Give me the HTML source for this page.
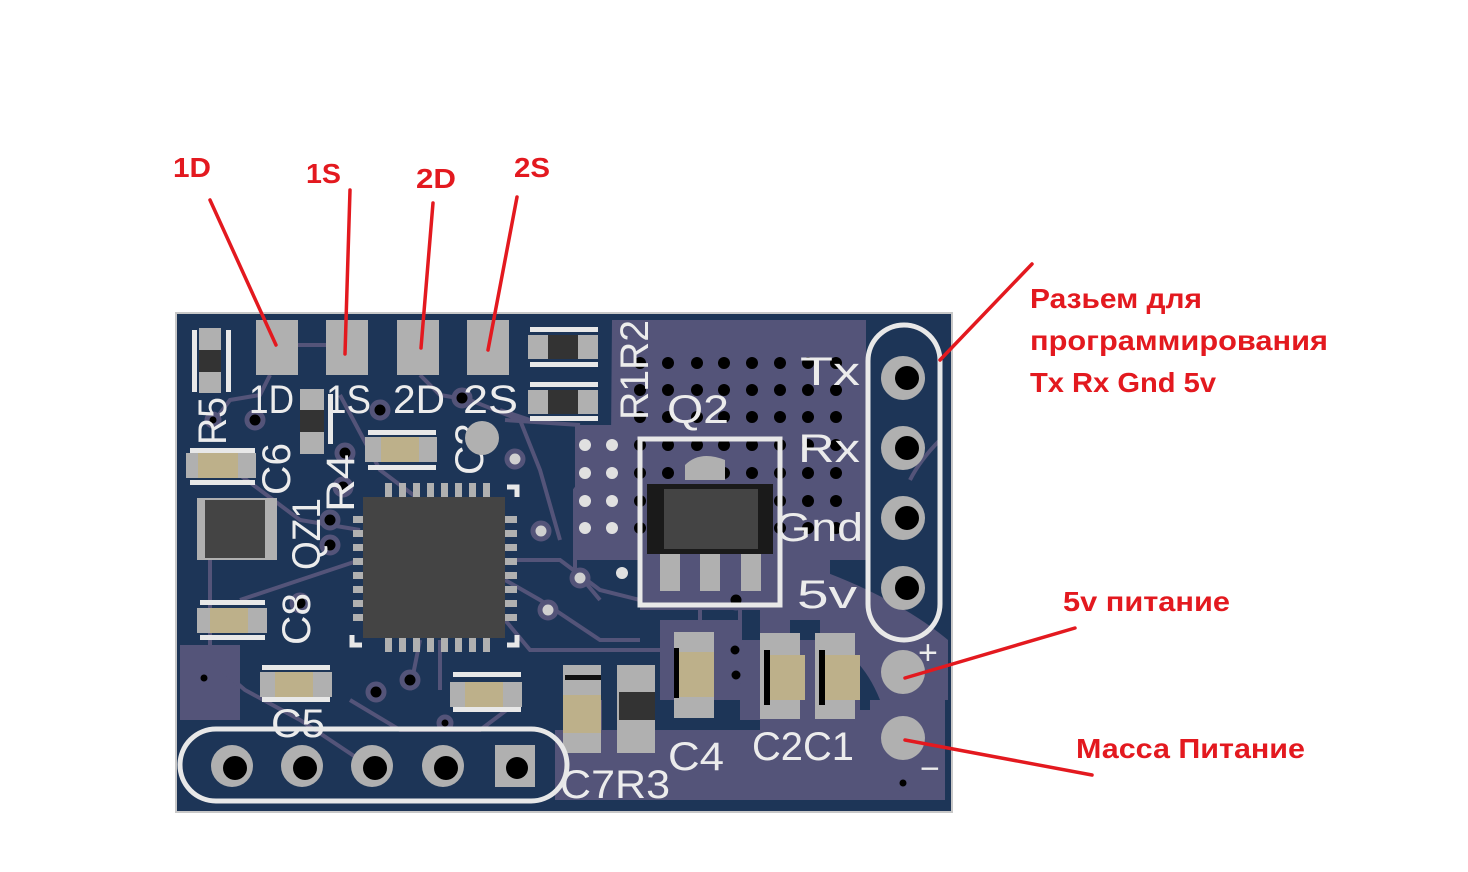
<!DOCTYPE html>
<html><head><meta charset="utf-8"><style>
html,body{margin:0;padding:0;background:#fff;width:1468px;height:872px;overflow:hidden}
svg{display:block}
.s{font-family:"Liberation Sans",sans-serif;fill:#ececec}
.r{font-family:"Liberation Sans","DejaVu Sans",sans-serif;font-weight:bold;fill:#e3191f}
</style></head><body>
<svg width="1468" height="872" viewBox="0 0 1468 872" xmlns="http://www.w3.org/2000/svg">
<rect x="175" y="312" width="778" height="501" fill="#c8c8c8"/>
<rect x="177" y="314" width="774" height="497" fill="#1d3557"/>
<g fill="#545479">
<path d="M612 320 H866 V560 H830 V620 H790 V640 H760 V610 H640 V560 H610 Z"/>
<path d="M575 425 H640 V560 H575 Z"/>
<path d="M555 730 H760 V710 H870 V700 H945 V800 H555 Z"/>
<path d="M660 620 H740 V700 H660 Z"/>
<path d="M180 645 H240 V720 H180 Z"/>
<path d="M740 640 H860 V720 H740 Z"/>
<path d="M820 570 Q900 600 948 640 V700 H880 Q860 650 820 640 Z"/>
</g>
<g stroke="#545479" stroke-width="4" fill="none">
<path d="M298 345 L330 345 M340 395 L380 470 L420 500"/>
<path d="M270 375 L260 395 L230 400 L215 420"/>
<path d="M420 375 L440 395 L470 400 L520 420 L540 470 L560 540"/>
<path d="M500 410 L530 420"/>
<path d="M505 420 L580 425"/>
<path d="M240 475 L300 520 L360 530"/>
<path d="M210 560 L210 660 L245 690 L300 720 L360 760"/>
<path d="M360 560 L300 580 L240 600"/>
<path d="M505 560 L560 560 L600 590 L640 600"/>
<path d="M505 580 L540 600 L600 640 L640 640"/>
<path d="M420 640 L410 690 M440 640 L440 690"/>
<path d="M505 620 L530 650 L600 650 L720 650"/>
<path d="M350 700 L400 730 L480 730 L520 700"/>
<path d="M600 700 L600 730"/>
<path d="M940 440 Q920 460 910 480"/>
<path d="M740 610 V640 M700 610 V640"/>
<path d="M590 425 V470 L575 490 V570 L600 600"/>
</g>
<g fill="#000">
<g id="row1">
<circle cx="640" cy="363" r="6"/><circle cx="668" cy="363" r="6"/><circle cx="697" cy="363" r="6"/><circle cx="724" cy="363" r="6"/><circle cx="752" cy="363" r="6"/><circle cx="780" cy="363" r="6"/><circle cx="808" cy="363" r="6"/><circle cx="836" cy="363" r="6"/>
</g>
<use href="#row1" y="27"/><use href="#row1" y="54"/><use href="#row1" y="82"/><use href="#row1" y="110"/><use href="#row1" y="138"/><use href="#row1" y="165"/>
</g>
<g fill="#e0e0e0">
<circle cx="585" cy="445" r="6"/><circle cx="612" cy="445" r="6"/>
<circle cx="585" cy="473" r="6"/><circle cx="612" cy="473" r="6"/>
<circle cx="585" cy="501" r="6"/><circle cx="612" cy="501" r="6"/>
<circle cx="585" cy="528" r="6"/><circle cx="612" cy="528" r="6"/>
<circle cx="622" cy="573" r="6"/>
</g>
<g fill="#000" stroke="#545479" stroke-width="5">
<circle cx="255" cy="420" r="8"/><circle cx="380" cy="410" r="8"/><circle cx="462" cy="398" r="8"/>
<circle cx="345" cy="453" r="8"/><circle cx="343" cy="487" r="8"/><circle cx="330" cy="520" r="8"/>
<circle cx="330" cy="545" r="8"/><circle cx="300" cy="603" r="8"/><circle cx="388" cy="547" r="8"/>
<circle cx="376" cy="692" r="8"/><circle cx="410" cy="680" r="8"/><circle cx="445" cy="723" r="6"/>
<circle cx="736" cy="600" r="8"/><circle cx="735" cy="650" r="7"/><circle cx="736" cy="675" r="7"/>
<circle cx="903" cy="783" r="6"/><circle cx="204" cy="678" r="6"/><circle cx="213" cy="420" r="6"/>
</g>
<g fill="#d0d0d0" stroke="#545479" stroke-width="5">
<circle cx="515" cy="459" r="8"/><circle cx="541" cy="531" r="8"/><circle cx="548" cy="610" r="8"/>
<circle cx="580" cy="578" r="8"/>
</g>
<g fill="#b0b0b0">
<rect x="256" y="320" width="42" height="55"/><rect x="326" y="320" width="42" height="55"/>
<rect x="397" y="320" width="42" height="55"/><rect x="467" y="320" width="42" height="55"/>
</g>
<g class="s" font-size="40">
<text x="249" y="413" textLength="45" lengthAdjust="spacingAndGlyphs">1D</text>
<text x="326" y="413" textLength="45" lengthAdjust="spacingAndGlyphs">1S</text>
<text x="393" y="413" textLength="52" lengthAdjust="spacingAndGlyphs">2D</text>
<text x="463" y="413" textLength="55" lengthAdjust="spacingAndGlyphs">2S</text>
<text x="800" y="385" textLength="60" lengthAdjust="spacingAndGlyphs">Tx</text>
<text x="798" y="462" textLength="62" lengthAdjust="spacingAndGlyphs">Rx</text>
<text x="775" y="541" textLength="88" lengthAdjust="spacingAndGlyphs">Gnd</text>
<text x="797" y="608" textLength="60" lengthAdjust="spacingAndGlyphs">5v</text>
<text x="667" y="423" textLength="62" lengthAdjust="spacingAndGlyphs">Q2</text>
<text x="271" y="737" textLength="54" lengthAdjust="spacingAndGlyphs">C5</text>
<text x="560" y="798" textLength="110" lengthAdjust="spacingAndGlyphs">C7R3</text>
<text x="668" y="770" textLength="56" lengthAdjust="spacingAndGlyphs">C4</text>
<text x="752" y="760" textLength="102" lengthAdjust="spacingAndGlyphs">C2C1</text>
<text x="0" y="0" transform="translate(648,420) rotate(-90)" textLength="100" lengthAdjust="spacingAndGlyphs">R1R2</text>
<text x="0" y="0" transform="translate(226,445) rotate(-90)" textLength="48" lengthAdjust="spacingAndGlyphs">R5</text>
<text x="0" y="0" transform="translate(290,495) rotate(-90)" textLength="52" lengthAdjust="spacingAndGlyphs">C6</text>
<text x="0" y="0" transform="translate(320,570) rotate(-90)" textLength="72" lengthAdjust="spacingAndGlyphs">QZ1</text>
<text x="0" y="0" transform="translate(354,512) rotate(-90)" textLength="58" lengthAdjust="spacingAndGlyphs">R4</text>
<text x="0" y="0" transform="translate(483,475) rotate(-90)" textLength="52" lengthAdjust="spacingAndGlyphs">C3</text>
<text x="0" y="0" transform="translate(310,645) rotate(-90)" textLength="52" lengthAdjust="spacingAndGlyphs">C8</text>
<text x="918" y="664" font-size="34">+</text>
<text x="920" y="780" font-size="34">−</text>
</g>
<circle cx="482" cy="438" r="17" fill="#b0b0b0"/>
<g><rect x="192" y="330" width="5" height="62" fill="#e8e8e8"/><rect x="226" y="330" width="5" height="62" fill="#e8e8e8"/>
<rect x="199" y="328" width="22" height="65" fill="#b0b0b0"/><rect x="199" y="350" width="22" height="22" fill="#333"/></g>
<g><rect x="300" y="389" width="24" height="65" fill="#b0b0b0"/><rect x="300" y="410" width="24" height="22" fill="#333"/><rect x="328" y="394" width="5" height="50" fill="#e8e8e8"/></g>
<g><rect x="530" y="327" width="68" height="5" fill="#e8e8e8"/><rect x="530" y="362" width="68" height="5" fill="#e8e8e8"/>
<rect x="528" y="335" width="70" height="24" fill="#b0b0b0"/><rect x="548" y="335" width="30" height="24" fill="#333"/>
<rect x="530" y="382" width="68" height="5" fill="#e8e8e8"/><rect x="530" y="416" width="68" height="5" fill="#e8e8e8"/>
<rect x="528" y="390" width="70" height="24" fill="#b0b0b0"/><rect x="548" y="390" width="30" height="24" fill="#333"/></g>
<g>
<rect x="190" y="448" width="65" height="5" fill="#e8e8e8"/><rect x="190" y="480" width="65" height="5" fill="#e8e8e8"/>
<rect x="186" y="453" width="70" height="25" fill="#b0b0b0"/><rect x="198" y="453" width="40" height="25" fill="#bdb08a"/>
<rect x="368" y="430" width="68" height="5" fill="#e8e8e8"/><rect x="368" y="465" width="68" height="5" fill="#e8e8e8"/>
<rect x="365" y="437" width="72" height="25" fill="#b0b0b0"/><rect x="381" y="437" width="38" height="25" fill="#bdb08a"/>
<rect x="200" y="600" width="65" height="5" fill="#e8e8e8"/><rect x="200" y="635" width="65" height="5" fill="#e8e8e8"/>
<rect x="197" y="608" width="70" height="25" fill="#b0b0b0"/><rect x="210" y="608" width="38" height="25" fill="#bdb08a"/>
<rect x="262" y="665" width="68" height="5" fill="#e8e8e8"/><rect x="262" y="697" width="68" height="5" fill="#e8e8e8"/>
<rect x="260" y="672" width="72" height="25" fill="#b0b0b0"/><rect x="275" y="672" width="38" height="25" fill="#bdb08a"/>
<rect x="453" y="672" width="68" height="5" fill="#e8e8e8"/><rect x="453" y="707" width="68" height="5" fill="#e8e8e8"/>
<rect x="450" y="682" width="72" height="25" fill="#b0b0b0"/><rect x="465" y="682" width="38" height="25" fill="#bdb08a"/>
</g>
<g fill="#b0b0b0"><rect x="197" y="498" width="80" height="62"/></g>
<rect x="205" y="500" width="60" height="58" fill="#444"/>
<g fill="#b0b0b0">
<g id="pt"><rect x="385" y="483" width="7" height="14"/><rect x="399" y="483" width="7" height="14"/><rect x="413" y="483" width="7" height="14"/><rect x="427" y="483" width="7" height="14"/><rect x="441" y="483" width="7" height="14"/><rect x="455" y="483" width="7" height="14"/><rect x="469" y="483" width="7" height="14"/><rect x="483" y="483" width="7" height="14"/></g>
<use href="#pt" y="155"/>
<g id="pl"><rect x="353" y="516" width="12" height="7"/><rect x="353" y="530" width="12" height="7"/><rect x="353" y="544" width="12" height="7"/><rect x="353" y="558" width="12" height="7"/><rect x="353" y="572" width="12" height="7"/><rect x="353" y="586" width="12" height="7"/><rect x="353" y="600" width="12" height="7"/><rect x="353" y="614" width="12" height="7"/></g>
<use href="#pl" x="152"/>
</g>
<rect x="363" y="497" width="142" height="141" fill="#444"/>
<g stroke="#e8e8e8" stroke-width="5" fill="none"><path d="M352 635 V645 H362 M507 645 H517 V635 M517 497 V487 H507"/></g>
<rect x="640" y="439" width="140" height="166" fill="none" stroke="#e8e8e8" stroke-width="5"/>
<path d="M685 480 V465 Q700 450 725 460 V480 Z" fill="#b0b0b0"/>
<g fill="#b0b0b0"><rect x="660" y="553" width="20" height="38"/><rect x="700" y="553" width="20" height="38"/><rect x="741" y="553" width="20" height="38"/></g>
<rect x="647" y="484" width="126" height="70" fill="#1a1a1a"/><rect x="664" y="489" width="94" height="60" fill="#444"/>
<g>
<rect x="563" y="665" width="38" height="88" fill="#b0b0b0"/><rect x="565" y="675" width="36" height="5" fill="#111"/><rect x="563" y="695" width="38" height="38" fill="#bdb08a"/>
<rect x="617" y="665" width="38" height="88" fill="#b0b0b0"/><rect x="619" y="692" width="36" height="28" fill="#333"/>
<rect x="674" y="632" width="40" height="86" fill="#b0b0b0"/><rect x="677" y="652" width="37" height="45" fill="#bdb08a"/><rect x="674" y="648" width="5" height="50" fill="#000"/>
<rect x="760" y="633" width="40" height="86" fill="#b0b0b0"/><rect x="768" y="655" width="37" height="45" fill="#bdb08a"/><rect x="764" y="650" width="6" height="55" fill="#000"/>
<rect x="815" y="633" width="40" height="86" fill="#b0b0b0"/><rect x="823" y="655" width="37" height="45" fill="#bdb08a"/><rect x="819" y="650" width="6" height="55" fill="#000"/>
</g>
<rect x="868" y="325" width="72" height="315" rx="36" fill="none" stroke="#e8e8e8" stroke-width="5"/>
<g fill="#b0b0b0"><circle cx="903" cy="378" r="22"/><circle cx="903" cy="448" r="22"/><circle cx="903" cy="518" r="22"/><circle cx="903" cy="588" r="22"/>
<circle cx="903" cy="672" r="22"/><circle cx="903" cy="738" r="22"/></g>
<g fill="#000"><circle cx="907" cy="378" r="12"/><circle cx="907" cy="448" r="12"/><circle cx="907" cy="518" r="12"/><circle cx="907" cy="588" r="12"/></g>
<rect x="180" y="729" width="387" height="72" rx="36" fill="none" stroke="#e8e8e8" stroke-width="5"/>
<g fill="#b0b0b0"><circle cx="232" cy="766" r="21"/><circle cx="302" cy="766" r="21"/><circle cx="372" cy="766" r="21"/><circle cx="443" cy="766" r="21"/><rect x="495" y="745" width="40" height="42"/></g>
<g fill="#000"><circle cx="235" cy="768" r="12"/><circle cx="305" cy="768" r="12"/><circle cx="375" cy="768" r="12"/><circle cx="446" cy="768" r="12"/><circle cx="517" cy="768" r="11"/></g>
<g stroke="#e3191f" stroke-width="3.5" stroke-linecap="round">
<line x1="210" y1="200" x2="276" y2="345"/>
<line x1="350" y1="190" x2="345" y2="354"/>
<line x1="433" y1="203" x2="421" y2="348"/>
<line x1="517" y1="197" x2="488" y2="350"/>
<line x1="1032" y1="264" x2="940" y2="360"/>
<line x1="1075" y1="628" x2="905" y2="678"/>
<line x1="905" y1="740" x2="1092" y2="775"/>
</g>
<g class="r" font-size="28">
<text x="173" y="177" textLength="38" lengthAdjust="spacingAndGlyphs">1D</text>
<text x="306" y="183" textLength="35" lengthAdjust="spacingAndGlyphs">1S</text>
<text x="416" y="188" textLength="40" lengthAdjust="spacingAndGlyphs">2D</text>
<text x="514" y="177" textLength="36" lengthAdjust="spacingAndGlyphs">2S</text>
<text x="1030" y="308" textLength="172" lengthAdjust="spacingAndGlyphs">Разьем для</text>
<text x="1030" y="350" textLength="298" lengthAdjust="spacingAndGlyphs">программирования</text>
<text x="1030" y="392" textLength="186" lengthAdjust="spacingAndGlyphs">Tx Rx Gnd 5v</text>
<text x="1063" y="611" textLength="167" lengthAdjust="spacingAndGlyphs">5v питание</text>
<text x="1076" y="758" textLength="229" lengthAdjust="spacingAndGlyphs">Масса Питание</text>
</g>
</svg>
</body></html>
